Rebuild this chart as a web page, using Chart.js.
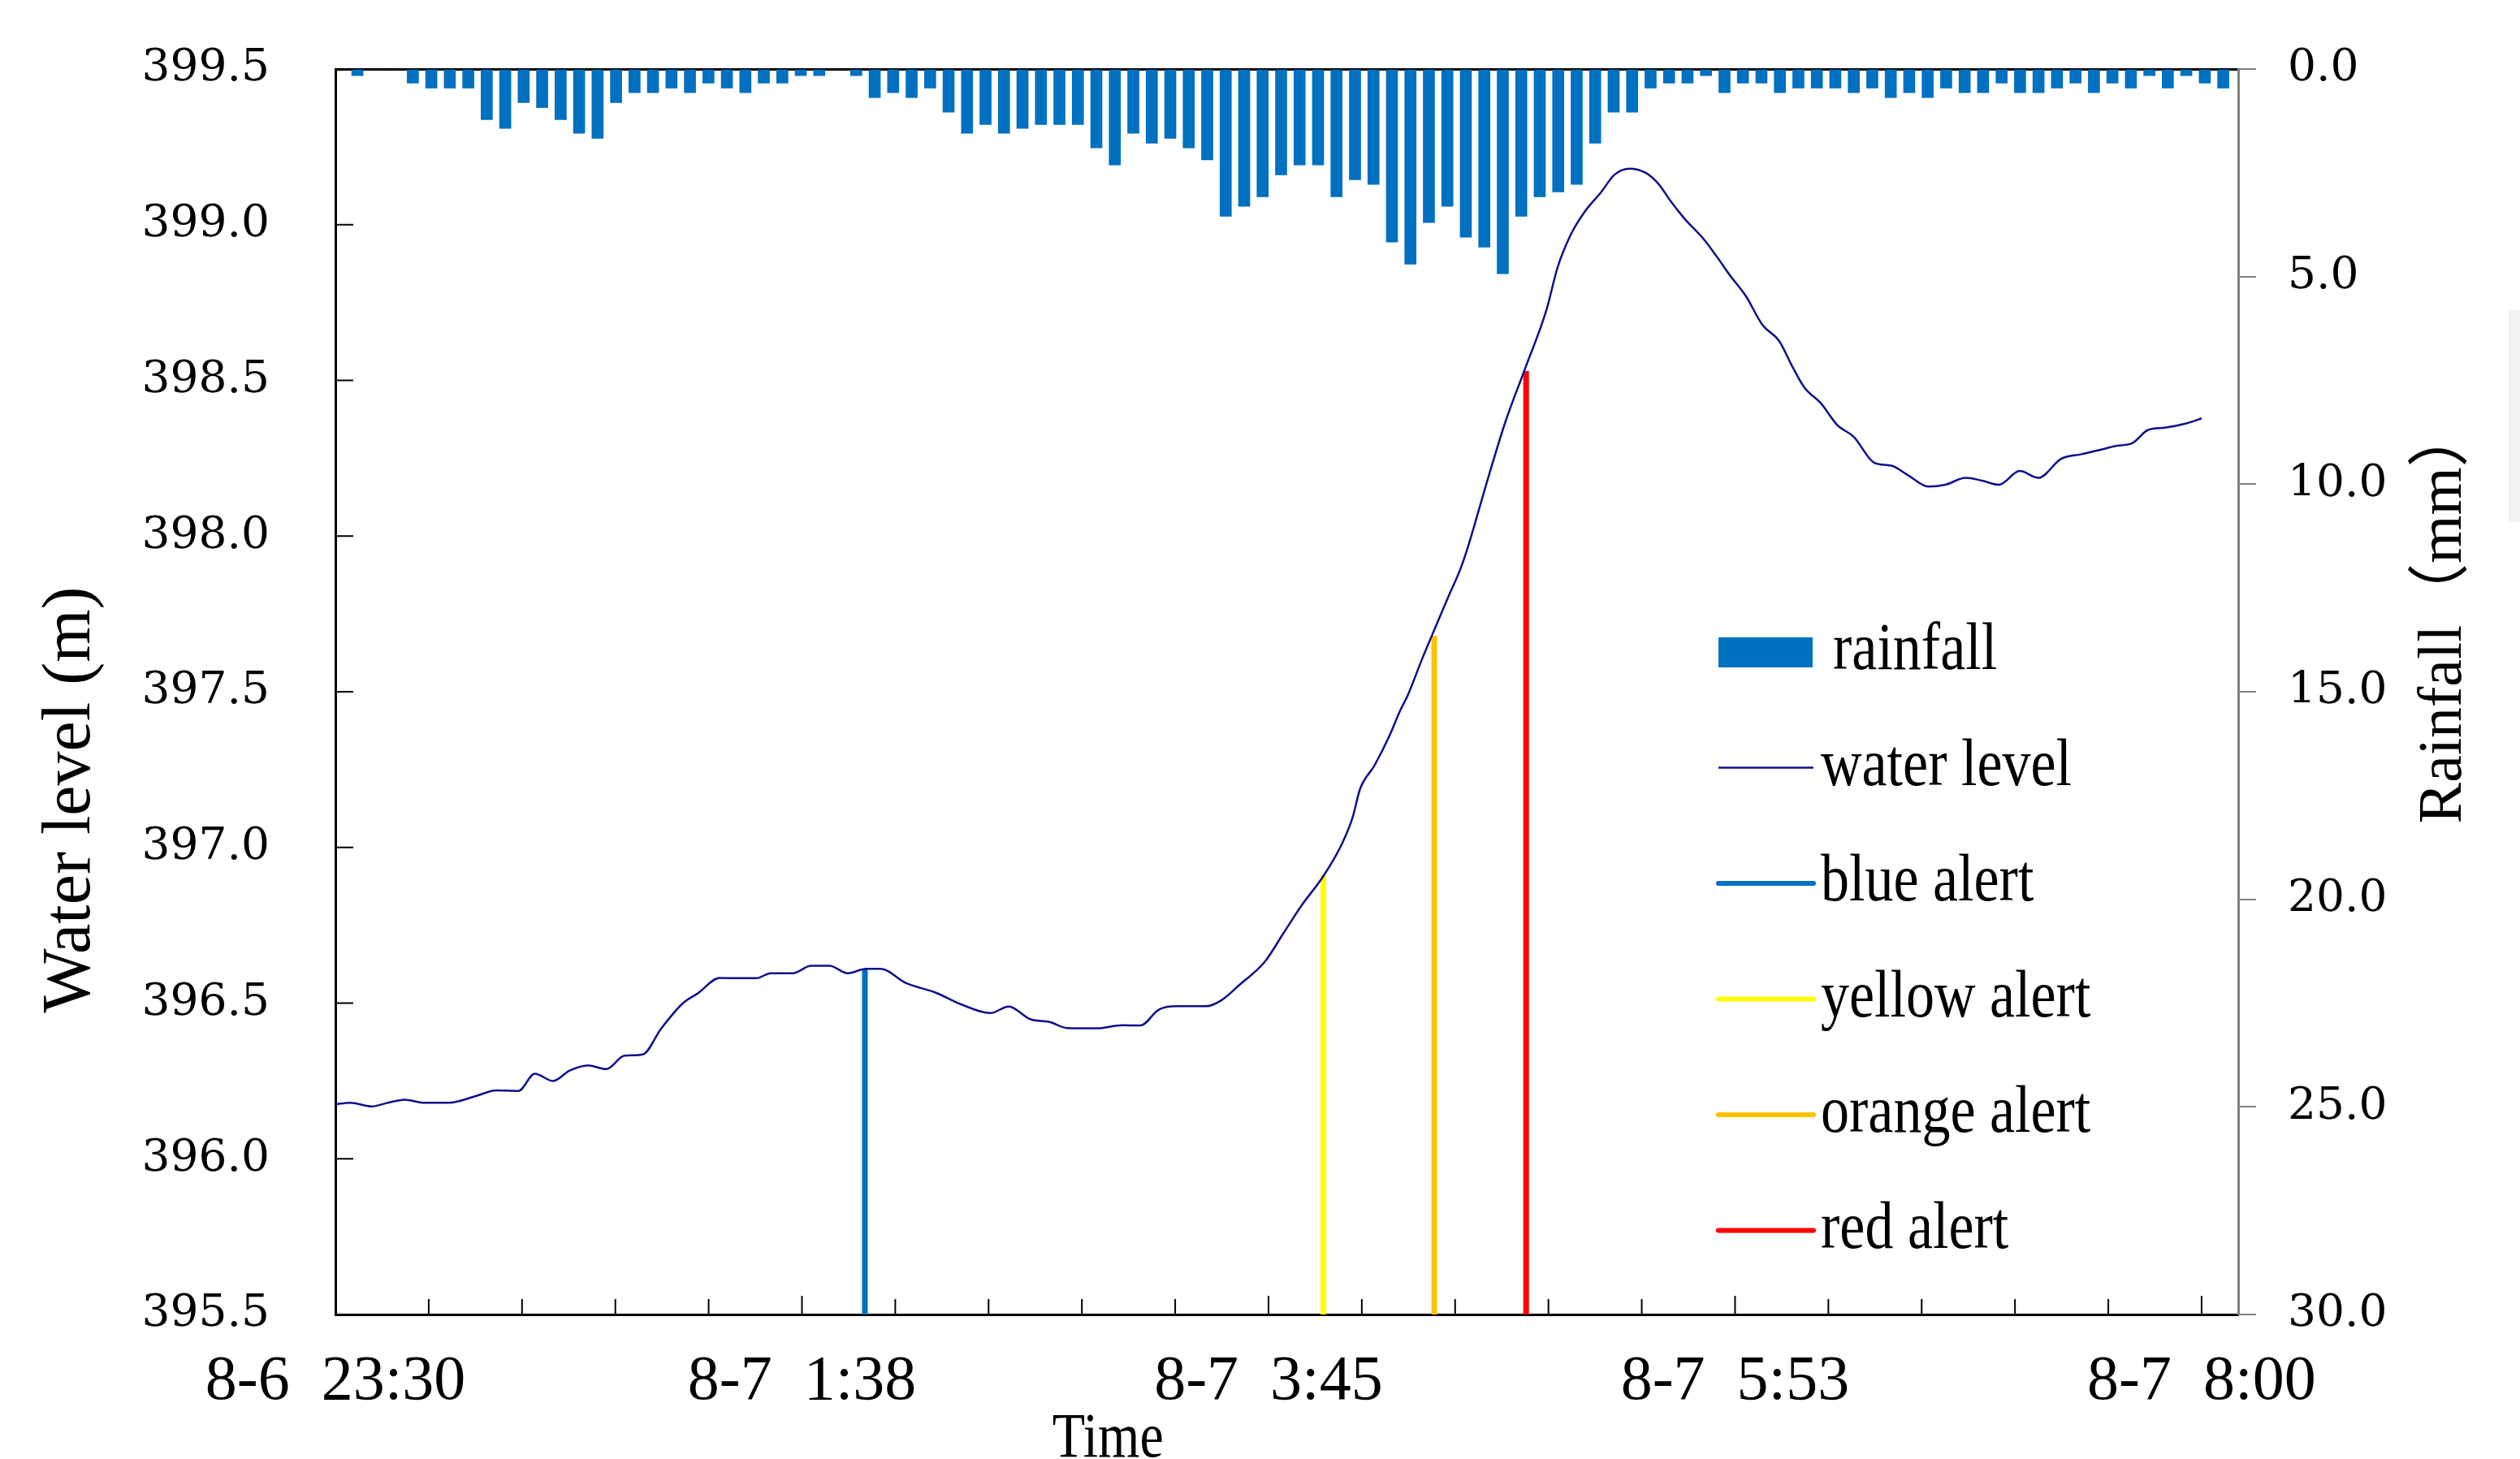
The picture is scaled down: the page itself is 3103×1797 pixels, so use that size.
<!DOCTYPE html>
<html>
<head>
<meta charset="utf-8">
<script src="https://cdn.jsdelivr.net/npm/chart.js@4.4.1/dist/chart.umd.min.js"></script>
<style>
  html, body { margin: 0; padding: 0; background: #fff; }
  #wrap { width: 3103px; height: 1797px; }
</style>
</head>
<body>
<div id="wrap"><canvas id="chart"></canvas></div>
<script>
// time in minutes after 8-6 23:30
const levelMinutes = [0, 4, 10, 14, 19, 24, 31, 38, 44, 50, 54.5, 59.5, 64, 69, 74, 79, 84, 89, 95, 99,
  105, 110, 115, 119, 125, 130, 135, 140, 145, 149, 156, 164, 171, 179, 184, 190, 195, 200, 208, 215,
  220, 225, 230, 238, 242, 247, 254, 259, 264, 270, 275, 278, 280, 284, 288, 291, 293, 297, 300, 304,
  307.5, 309.5, 314.7, 319.8, 325, 331, 334, 337.6, 341.3, 345.8, 349.5, 353.7, 358, 361.5, 365, 368.5,
  374.2, 377.6, 381, 385.5, 390, 394.6, 398, 401.4, 406, 410.4, 415, 420.6, 425.2, 429.7, 435.3, 440,
  445.5, 450, 454.6, 460.3, 465.4, 471.6, 477.2, 483, 486.3, 491, 495.4, 500, 505.6, 510];
const levelValues = [396.175, 396.18, 396.168, 396.179, 396.19, 396.18, 396.18, 396.20, 396.22, 396.218,
  396.273, 396.25, 396.283, 396.30, 396.288, 396.331, 396.335, 396.418, 396.50, 396.531,
  396.581, 396.58, 396.58, 396.596, 396.596, 396.62, 396.62, 396.596, 396.61, 396.61,
  396.564, 396.534, 396.496, 396.468, 396.489, 396.448, 396.44, 396.42, 396.419, 396.429,
  396.428, 396.479, 396.49, 396.49, 396.508, 396.558, 396.633, 396.723, 396.813, 396.908,
  397.01, 397.097, 397.187, 397.264, 397.357, 397.44, 397.487, 397.606, 397.69, 397.801,
  397.896, 397.965, 398.174, 398.369, 398.534, 398.728, 398.863, 398.968, 399.04, 399.103,
  399.16, 399.18, 399.167, 399.132, 399.074, 399.022, 398.95, 398.896, 398.839, 398.77,
  398.678, 398.626, 398.548, 398.478, 398.426, 398.357, 398.318, 398.235, 398.226, 398.196,
  398.159, 398.165, 398.187, 398.178, 398.165, 398.209, 398.187, 398.248, 398.263, 398.279,
  398.289, 398.298, 398.341, 398.348, 398.361, 398.378];

// rainfall per bin (mm)
const rainfall = [0, 0.16, 0, 0, 0.34, 0.46, 0.46, 0.46, 1.22, 1.43,
  0.81, 0.93, 1.22, 1.55, 1.67, 0.81, 0.57, 0.57, 0.46, 0.57,
  0.34, 0.46, 0.57, 0.34, 0.34, 0.16, 0.16, 0, 0.16, 0.69,
  0.57, 0.69, 0.46, 1.04, 1.55, 1.34, 1.55, 1.43, 1.34, 1.34,
  1.34, 1.90, 2.31, 1.55, 1.79, 1.67, 1.90, 2.19, 3.55, 3.31,
  3.08, 2.55, 2.31, 2.31, 3.08, 2.67, 2.78, 4.17, 4.70, 3.70,
  3.31, 4.05, 4.29, 4.93, 3.55, 3.08, 2.96, 2.78, 1.79, 1.04,
  1.04, 0.46, 0.34, 0.34, 0.16, 0.57, 0.34, 0.34, 0.57, 0.46,
  0.46, 0.46, 0.57, 0.46, 0.69, 0.57, 0.69, 0.46, 0.57, 0.57,
  0.34, 0.57, 0.57, 0.46, 0.34, 0.57, 0.34, 0.46, 0.16, 0.46,
  0.16, 0.34, 0.46];
const rainBins = rainfall.map((_, i) => i + 1);

const alertNames = ['blue alert', 'yellow alert', 'orange alert', 'red alert'];
const alertColors = ['#0070C0', '#FFFF00', '#FFC000', '#FF0000'];
const alertMinutes = [144.7, 270, 300.3, 325.4];
const alertLevels = [396.61, 396.91, 397.68, 398.53];

const xTickLabels = ['8-6  23:30', '8-7  1:38', '8-7  3:45', '8-7  5:53', '8-7  8:00'];
const xMajorStep = 127.5;

Chart.defaults.font.family = '"Liberation Serif", "Times New Roman", serif';
Chart.defaults.color = '#000';

const datasets = [
  {
    type: 'bar', label: 'rainfall', data: rainfall,
    xAxisID: 'x2', yAxisID: 'y1',
    backgroundColor: '#0070C0', barThickness: 14, order: 3
  },
  {
    type: 'line', label: 'water level',
    data: levelMinutes.map((m, i) => ({ x: m, y: levelValues[i] })),
    xAxisID: 'x', yAxisID: 'y',
    borderColor: '#10108a', borderWidth: 2.5, pointRadius: 0,
    cubicInterpolationMode: 'monotone', order: 1
  }
];
alertNames.forEach((name, i) => {
  datasets.push({
    type: 'line', label: name,
    data: [{ x: alertMinutes[i], y: 395.5 }, { x: alertMinutes[i], y: alertLevels[i] }],
    xAxisID: 'x', yAxisID: 'y',
    borderColor: alertColors[i], borderWidth: 7, pointRadius: 0, order: 2
  });
});

function stretchText(c, text, x, y, sy) {
  c.save();
  c.translate(x, y);
  c.scale(1, sy);
  c.fillText(text, 0, 0);
  c.restore();
}

// keep tick padding from pushing the plot area down
function fixWidth(w) {
  return s => { s.width = w; s.paddingTop = 0; s.paddingBottom = 0; };
}

const decor = {
  id: 'decor',
  beforeDraw(chart) {
    const c = chart.ctx;
    c.save();
    c.fillStyle = '#fff';
    c.fillRect(0, 0, chart.width, chart.height);
    c.fillStyle = '#f3f3f3';
    c.fillRect(3089, 382, 14, 261);
    c.restore();
  },
  afterDraw(chart) {
    const c = chart.ctx, a = chart.chartArea;
    const xs = chart.scales.x, ys = chart.scales.y;
    c.save();
    // inward ticks
    c.strokeStyle = '#000';
    c.lineWidth = 2;
    ys.ticks.forEach(t => {
      const py = ys.getPixelForValue(t.value);
      c.beginPath(); c.moveTo(a.left, py); c.lineTo(a.left + 22, py); c.stroke();
    });
    xs.ticks.forEach((t, i) => {
      const px = xs.getPixelForValue(t.value);
      const len = i % 5 === 0 ? 23 : 19;
      c.beginPath(); c.moveTo(px, a.bottom); c.lineTo(px, a.bottom - len); c.stroke();
    });

    // axis titles
    c.fillStyle = '#000';
    c.textAlign = 'center';
    c.textBaseline = 'middle';
    c.font = '84px "Liberation Serif"';
    c.save(); c.translate(88, 985); c.rotate(-Math.PI / 2); c.fillText('Water level (m)', 0, 0); c.restore();
    c.font = '76px "Liberation Serif", "Noto Sans CJK SC"';
    c.save(); c.translate(3010, 757); c.rotate(-Math.PI / 2); c.fillText('Rainfall（mm）', 0, 0); c.restore();
    c.textBaseline = 'alphabetic';
    c.font = '66px "Liberation Serif"';
    stretchText(c, 'Time', a.left + (a.right - a.left) * 0.406, 1794, 1.2);

    // legend
    c.textAlign = 'left';
    c.font = '70px "Liberation Serif"';
    chart.data.datasets.forEach((ds, i) => {
      const cy = 803 + i * 142.5;
      if (ds.type === 'bar') {
        c.fillStyle = ds.backgroundColor;
        c.fillRect(2116, cy - 18, 116, 37);
        c.fillStyle = '#000';
        stretchText(c, ds.label, 2257, cy + 21, 1.18);
      } else {
        c.strokeStyle = ds.borderColor;
        c.lineWidth = ds.borderWidth > 3 ? 6 : 2.5;
        c.lineCap = ds.borderWidth > 3 ? 'round' : 'butt';
        c.beginPath(); c.moveTo(2116, cy); c.lineTo(2233, cy); c.stroke();
        c.fillStyle = '#000';
        stretchText(c, ds.label, 2242, cy + 21, 1.18);
      }
    });
    c.restore();
  }
};

new Chart(document.getElementById('chart'), {
  type: 'bar',
  data: { labels: rainBins, datasets: datasets },
  options: {
    responsive: true,
    maintainAspectRatio: false,
    animation: false,
    layout: { padding: 0 },
    plugins: { legend: { display: false }, tooltip: { enabled: false } },
    scales: {
      x: {
        type: 'linear', position: 'bottom', min: 0, max: 520, offset: false,
        afterFit: s => { s.height = 178; },
        border: { color: '#000', width: 3 },
        grid: { drawOnChartArea: false, drawTicks: false, offset: false },
        ticks: {
          stepSize: 25.5, includeBounds: false, autoSkip: false,
          maxRotation: 0, minRotation: 0, padding: 37,
          font: { size: 78 },
          callback: v => {
            const k = v / xMajorStep;
            return Math.abs(k - Math.round(k)) < 1e-6 ? xTickLabels[Math.round(k)] : '';
          }
        }
      },
      x2: {
        type: 'category', position: 'top', offset: true,
        afterFit: s => { s.height = 85; },
        border: { color: '#000', width: 3 },
        grid: { drawOnChartArea: false, drawTicks: false },
        ticks: { display: false }
      },
      y: {
        type: 'linear', position: 'left', min: 395.5, max: 399.5,
        afterFit: fixWidth(413),
        border: { color: '#000', width: 3 },
        grid: { drawOnChartArea: false, drawTicks: false },
        ticks: {
          stepSize: 0.5, padding: 81,
          font: { family: '"DejaVu Serif"', size: 55 },
          callback: v => v.toFixed(1)
        }
      },
      y1: {
        type: 'linear', position: 'right', min: 0, max: 30, reverse: true,
        afterFit: fixWidth(347),
        border: { color: '#808080', width: 3 },
        grid: { drawOnChartArea: false, drawTicks: true, tickLength: 22, color: '#808080', lineWidth: 2 },
        ticks: {
          stepSize: 5, padding: 39,
          font: { family: '"DejaVu Serif"', size: 55 },
          callback: v => v.toFixed(1)
        }
      }
    }
  },
  plugins: [decor]
});
</script>
</body>
</html>
